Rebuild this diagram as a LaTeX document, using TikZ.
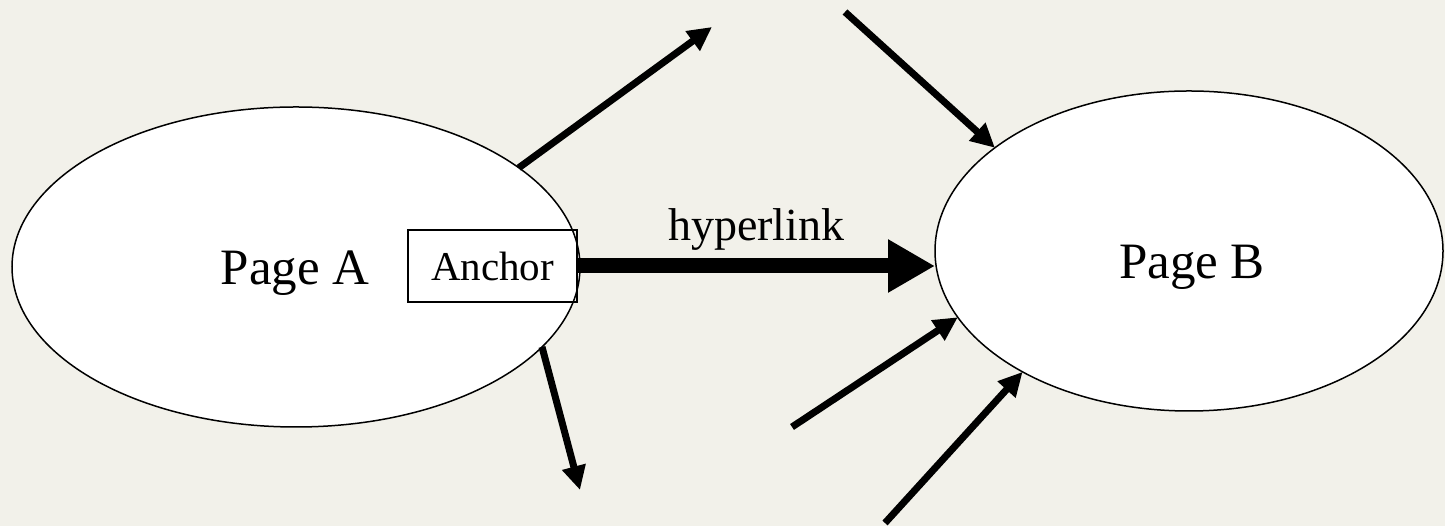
\documentclass[tikz,border=0pt]{standalone}
\usepackage{fontspec}
\setmainfont{Liberation Serif}
\usetikzlibrary{shapes.geometric, arrows.meta}
\definecolor{paper}{RGB}{242,241,234}
\tikzset{
    page/.style={shape=ellipse, draw, fill=white, line width=1.5pt, outer sep=0pt, inner sep=0pt},
    pagetext/.style={anchor=base, font=\fontsize{51}{60}\selectfont},
    link/.style={line width=7pt, -{Triangle[length=24pt, width=23pt]}},
}

\begin{document}
\begin{tikzpicture}[x=1pt, y=1pt]

        \fill[paper] (0,0) rectangle (1445,526);
        \useasboundingbox (0,0) rectangle (1445,526);

        \node[page, minimum width=568pt, minimum height=320pt] (A) at (296,259) {};
        \node[page, minimum width=508pt, minimum height=320pt] (B) at (1189,275) {};
        \node[pagetext] (tA) at (295,241) {Page A};
        \node[pagetext] (tB) at (1192,247) {Page B};
        \node[draw, line width=1.5pt, minimum width=169pt, minimum height=72pt, inner sep=0pt, font=\fontsize{41}{48}\selectfont] (anchor) at (492.5,260) {Anchor};

        \coordinate (c1) at (712,499);
        \coordinate (c2) at (845,514);
        \coordinate (c3) at (580,36);
        \coordinate (c4) at (792,99);
        \coordinate (c5) at (885,3);

        \draw[line width=15pt, -{Triangle[length=47pt, width=50pt]}] (anchor.east) -- (anchor.east -| B.west) node[midway, anchor=base, yshift=25pt, font=\fontsize{46}{54}\selectfont] {hyperlink};
        \draw[link] (A.24) -- (c1);
        \draw[link] (A.342) -- (c3);
        \draw[link] (c2) -- (B.152);
        \draw[link] (c4) -- (B.196);
        \draw[link] (c5) -- (B.216);

\end{tikzpicture}
\end{document}
